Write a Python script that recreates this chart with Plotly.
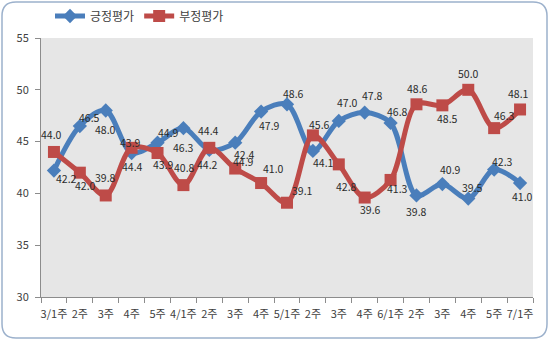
import plotly.graph_objects as go

categories = ["3/1주", "2주", "3주", "4주", "5주", "4/1주", "2주 ", "3주 ", "4주 ", "5/1주",
              "2주  ", "3주  ", "4주  ", "6/1주", "2주   ", "3주   ", "4주   ", "5주 ", "7/1주"]
tick_labels = ["3/1주", "2주", "3주", "4주", "5주", "4/1주", "2주", "3주", "4주", "5/1주",
               "2주", "3주", "4주", "6/1주", "2주", "3주", "4주", "5주", "7/1주"]
positive = [42.2, 46.5, 48.0, 43.9, 44.9, 46.3, 44.2, 44.9, 47.9, 48.6,
            44.1, 47.0, 47.8, 46.8, 39.8, 40.9, 39.5, 42.3, 41.0]
negative = [44.0, 42.0, 39.8, 44.4, 43.9, 40.8, 44.4, 42.4, 41.0, 39.1,
            45.6, 42.8, 39.6, 41.3, 48.6, 48.5, 50.0, 46.3, 48.1]

# label offsets in pixels (dx right, dy down) relative to each point
pos_offsets = [(13, 8), (10, -9), (0, 19), (-1, -11), (11, -10), (0, 19), (-2, 15), (8, 19),
               (8, 14), (6, -11), (11, 12), (9, -18), (8, -17), (7, -11), (0, 16), (8, -15),
               (4, -11), (8, -8), (2, 13)]
neg_offsets = [(-2, -17), (6, 13), (0, -18), (1, 19), (6, 11), (1, -18), (-1, -17), (9, -14),
               (12, -15), (15, -12), (7, -11), (8, 22), (6, 12), (7, 9), (1, -16), (5, 13),
               (0, -16), (10, -13), (-2, -16)]

FONT = "Noto Sans CJK KR"
BLUE = "#4a7ebb"
RED = "#be4b48"

fig = go.Figure()
fig.add_trace(go.Scatter(
    x=categories, y=positive, name="긍정평가", mode="lines+markers",
    line=dict(color=BLUE, width=5, shape="spline", smoothing=0.9),
    marker=dict(symbol="diamond", size=11, color=BLUE), cliponaxis=False,
))
fig.add_trace(go.Scatter(
    x=categories, y=negative, name="부정평가", mode="lines+markers",
    line=dict(color=RED, width=5, shape="spline", smoothing=0.9),
    marker=dict(symbol="square", size=12, color=RED), cliponaxis=False,
))

annotations = []
for series, offs in ((positive, pos_offsets), (negative, neg_offsets)):
    for cat, v, (dx, dy) in zip(categories, series, offs):
        annotations.append(dict(
            x=cat, y=v, xref="x", yref="y", text=f"{v:.1f}", showarrow=False,
            xshift=dx, yshift=-dy, xanchor="center", yanchor="middle",
            font=dict(family=FONT, size=10.5, color="#2b2b2b"),
        ))

# plot area pixel geometry
L, R, T, B = 41, 533, 38, 297
W, H = 550, 341
def px(x):
    return (x - L) / (R - L)
def py(y):
    return (B - y) / (B - T)

x0, x1, y0, y1, r = 2, 547, 2, 338, 14
path = (f"M {px(x0+r)} {py(y0)} L {px(x1-r)} {py(y0)} Q {px(x1)} {py(y0)} {px(x1)} {py(y0+r)} "
        f"L {px(x1)} {py(y1-r)} Q {px(x1)} {py(y1)} {px(x1-r)} {py(y1)} "
        f"L {px(x0+r)} {py(y1)} Q {px(x0)} {py(y1)} {px(x0)} {py(y1-r)} "
        f"L {px(x0)} {py(y0+r)} Q {px(x0)} {py(y0)} {px(x0+r)} {py(y0)} Z")

fig.update_layout(
    width=W, height=H,
    margin=dict(l=L, r=W - R, t=T, b=H - B, autoexpand=False),
    paper_bgcolor="white", plot_bgcolor="#e6e6e6",
    font=dict(family=FONT, size=11, color="#404040"),
    showlegend=True,
    legend=dict(orientation="h", x=px(50), xanchor="left", y=py(16), yanchor="middle",
                font=dict(family=FONT, size=12, color="#404040"),
                bgcolor="rgba(0,0,0,0)", itemwidth=30),
    annotations=annotations,
    shapes=[dict(type="path", path=path, xref="paper", yref="paper",
                 line=dict(color="#9cb1cc", width=1.5), layer="below")],
    xaxis=dict(type="category", categoryorder="array", categoryarray=categories,
               tickvals=categories, ticktext=tick_labels,
               range=[-0.5, len(categories) - 0.5],
               showgrid=False, zeroline=False, showline=True, linecolor="#8c8c8c", linewidth=1,
               ticks="outside", tickson="boundaries", ticklen=5, tickcolor="#8c8c8c",
               ticklabelstandoff=7,
               tickfont=dict(family=FONT, size=11, color="#404040"), tickangle=0),
    yaxis=dict(range=[30, 55], dtick=5, tick0=30, showgrid=False, zeroline=False,
               showline=True, linecolor="#8c8c8c", linewidth=1,
               ticks="outside", ticklen=5, tickcolor="#8c8c8c", ticklabelstandoff=4,
               tickfont=dict(family=FONT, size=11, color="#404040")),
)

fig.write_html("out.html")
